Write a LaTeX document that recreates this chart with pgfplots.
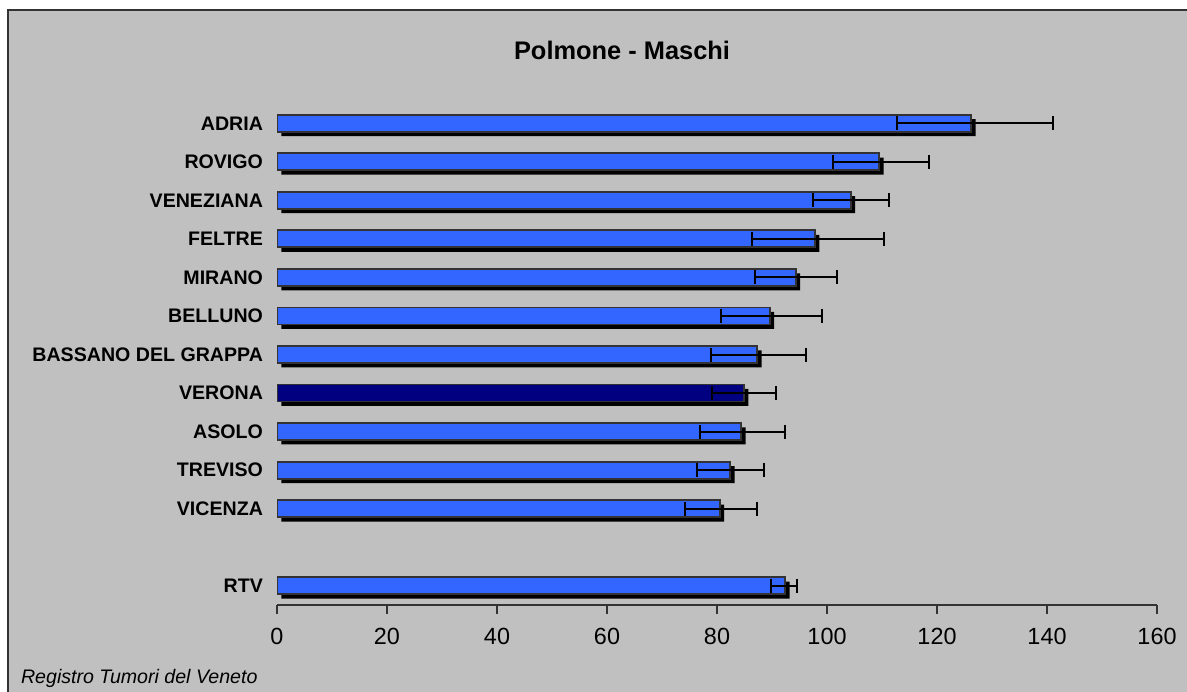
\documentclass[border=0pt]{standalone}
\usepackage{pgfplots}
\pgfplotsset{compat=1.18}
\usepackage{fontspec}
\setmainfont{Liberation Sans}
\definecolor{bg}{HTML}{C0C0C0}
\definecolor{barblue}{HTML}{3366FF}
\definecolor{navyblue}{HTML}{000080}
\definecolor{framegray}{HTML}{333333}

\begin{document}
\begin{tikzpicture}
\useasboundingbox (0,0) rectangle (593.5pt,345.5pt);
\fill[white] (0,0) rectangle (593.5pt,345.5pt);
\draw[framegray, line width=1pt, fill=bg] (4pt,-2pt) rectangle (596pt,340.5pt);
\node[font=\bfseries\fontsize{12.7}{14}\selectfont] at (311pt,320.5pt) {Polmone - Maschi};
\node[anchor=base west, font=\itshape\fontsize{9.8}{11}\selectfont] at (7pt,4pt) {Registro Tumori del Veneto};
\begin{axis}[
  at={(138.5pt,43pt)}, anchor=south west,
  scale only axis, width=440pt, height=250.5pt,
  xmin=0, xmax=160, ymin=-0.5, ymax=12.5,
  axis x line*=bottom, axis y line*=left,
  x axis line style={framegray, line width=0.7pt},
  y axis line style={draw=none},
  xtick={0,20,...,160},
  xtick align=outside, major tick length=4.5pt,
  xtick style={framegray, line width=0.7pt},
  ytick={0,2,3,4,5,6,7,8,9,10,11,12},
  yticklabels={RTV,VICENZA,TREVISO,ASOLO,VERONA,BASSANO DEL GRAPPA,BELLUNO,MIRANO,FELTRE,VENEZIANA,ROVIGO,ADRIA},
  ytick style={draw=none},
  /pgf/number format/assume math mode=true,
  xticklabel style={font=\fontsize{11.7}{13}\selectfont, yshift=-3.5pt},
  yticklabel style={font=\bfseries\fontsize{9.8}{11}\selectfont, xshift=1pt},
  xbar, bar shift=0pt, bar width=8.5pt,
]
% shadow
\addplot[xbar, bar width=8.5pt, bar shift=0pt, fill=black, draw=none, xshift=2.2pt, yshift=-2.2pt] coordinates {
(126.2,12) (109.5,11) (104.3,10) (97.8,9) (94.3,8) (89.6,7) (87.3,6)
(84.9,5) (84.4,4) (82.4,3) (80.5,2) (92.4,0)};
% main bars
\addplot[xbar, fill=barblue, draw=framegray, line width=0.9pt,
  error bars/.cd, x dir=both, x explicit,
  error bar style={black, line width=1pt},
  error mark options={black, line width=1pt, mark size=3.5pt, rotate=90}]
 coordinates {
(126.2,12) += (14.8,0) -= (13.5,0)
(109.5,11) += (9.0,0) -= (8.4,0)
(104.3,10) += (7.0,0) -= (6.8,0)
(97.8,9) += (12.5,0) -= (11.5,0)
(94.3,8) += (7.6,0) -= (7.4,0)
(89.6,7) += (9.5,0) -= (8.8,0)
(87.3,6) += (8.9,0) -= (8.4,0)
(84.4,4) += (8.0,0) -= (7.5,0)
(82.4,3) += (6.2,0) -= (6.1,0)
(80.5,2) += (6.8,0) -= (6.4,0)
(92.4,0) += (2.2,0) -= (2.5,0)
};
\addplot[xbar, fill=navyblue, draw=framegray, line width=0.9pt,
  error bars/.cd, x dir=both, x explicit,
  error bar style={black, line width=1pt},
  error mark options={black, line width=1pt, mark size=3.5pt, rotate=90}]
 coordinates {
(84.9,5) += (5.9,0) -= (5.9,0)
};
\end{axis}
\end{tikzpicture}
\end{document}
